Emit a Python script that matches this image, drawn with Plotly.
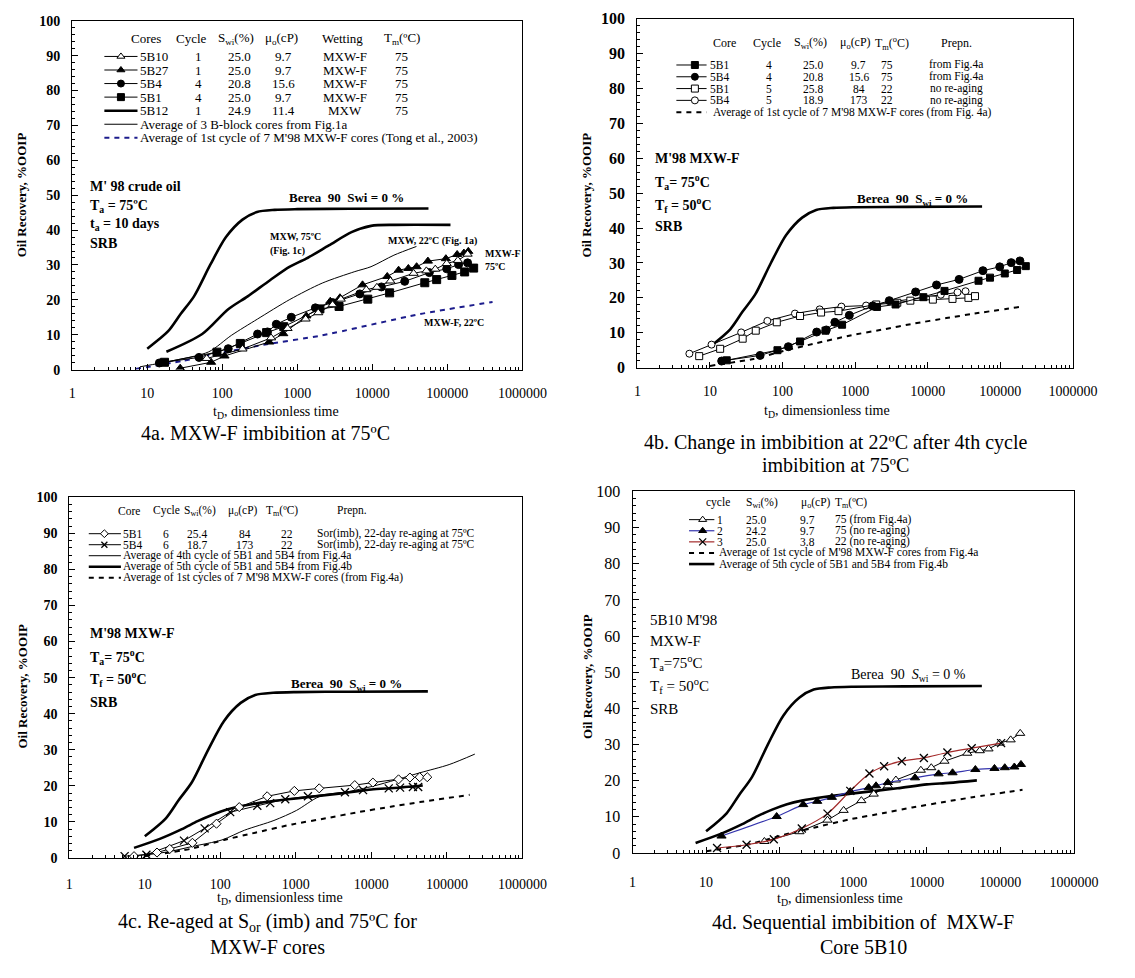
import plotly.graph_objects as go

W, H = 1135, 978
SERIF = "Liberation Serif, Times New Roman, serif"

# ---------------------------------------------------------------- data
# dimensionless time t_D and oil recovery (%OOIP)
td_berea = [10, 19, 28, 42, 69, 112, 186, 290, 500, 1000, 5000, 56000]
rec_berea = [6.0, 11.0, 16.0, 21.0, 30.0, 38.0, 43.0, 45.2, 45.8, 46.0, 46.1, 46.2]

td_mxw75 = [18, 54, 120, 218, 437, 795, 1310, 2630, 5280, 9600, 20000, 110000]
rec_mxw75 = [5.1, 10.2, 17.3, 21.0, 25.7, 29.5, 31.8, 35.6, 39.4, 41.2, 41.5, 41.5]

td_bblock = [8, 25, 66, 132, 295, 795, 2150, 5850, 9600, 19400, 38700]
rec_bblock = [0.8, 2.8, 5.1, 9.8, 14.5, 20.1, 24.8, 28.1, 29.5, 32.8, 35.3]

td_tong = [7, 30, 66, 355, 2130, 42600, 400000]
rec_tong = [0.2, 2.5, 4.1, 7.1, 9.8, 15.9, 19.4]

td_avg1 = [10, 40, 112, 290, 890, 2500, 6300, 18000, 44000, 200000]
rec_avg1 = [0.5, 2.5, 5.0, 7.0, 9.3, 11.0, 12.6, 14.2, 15.5, 17.5]

td_avg4 = [10, 21.4, 42.7, 105, 209, 513, 1023, 2042, 4467, 10965, 43652, 107152, 234423]
rec_avg4 = [0.8, 1.8, 3.2, 5.0, 7.7, 10.4, 13.2, 17.0, 18.2, 20.0, 23.6, 25.9, 28.8]

td_avg5 = [7.2, 15.8, 31, 50, 79, 126, 200, 398, 1000, 3980, 10000, 20000, 47900]
rec_avg5 = [2.8, 5.3, 8.0, 10.2, 12.0, 13.5, 14.5, 15.5, 16.5, 17.9, 19.0, 19.4, 20.1]

td_5b10_c1 = [62, 186, 447, 741, 1290, 1900, 2950, 3800, 8300, 11500, 17400,
              35500, 52500, 69000, 98000, 138000, 186000]
rec_5b10_c1 = [3.2, 5.9, 9.1, 11.8, 14.5, 16.3, 18.6, 20.2, 22.9, 23.6, 25.4,
               27.6, 28.3, 28.8, 30.4, 31.3, 33.1]

td_5b27_c1 = [27.5, 71, 107, 420, 650, 1320, 2750, 3700, 7400, 15800, 22400,
              30200, 38900, 55000, 95500, 135000, 166000, 190000]
rec_5b27_c1 = [0.4, 2.1, 3.9, 7.9, 10.3, 15.4, 19.6, 20.6, 24.3, 26.7, 28.5,
               29.0, 29.5, 31.1, 31.8, 33.0, 33.4, 33.9]

td_5b4_c4 = [14.5, 49, 120, 295, 400, 525, 830, 1740, 2950, 6800, 13200,
             27000, 57500, 98000, 141000, 186000]
rec_5b4_c4 = [1.9, 3.5, 6.0, 10.2, 10.8, 13.0, 15.0, 17.7, 19.2, 21.7, 23.7,
              25.3, 27.8, 28.9, 30.1, 30.6]

td_5b1_c4 = [17, 85, 174, 390, 660, 2000, 3600, 8700, 17000, 50000, 72000,
             115000, 170000, 224000]
rec_5b1_c4 = [2.1, 5.0, 7.5, 10.6, 12.3, 17.4, 18.1, 20.2, 22.0, 24.9, 25.8,
              27.0, 28.0, 29.1]

td_5b1_c5 = [7.1, 13.8, 28.2, 42.7, 83.2, 174, 339, 589, 1950, 3800, 5750,
             11750, 21900, 36300, 44700]
rec_5b1_c5 = [3.3, 5.4, 8.3, 10.6, 13.0, 14.8, 15.8, 16.2, 18.1, 18.6, 19.2,
              19.5, 19.7, 20.0, 20.5]

td_5b4_c5 = [5.2, 10.5, 26.9, 61.7, 148, 324, 646, 1413, 15136, 25704, 33113]
rec_5b4_c5 = [4.0, 6.6, 10.1, 13.4, 15.5, 16.7, 17.5, 17.8, 20.9, 21.6, 21.9]

td_5b1_c6 = [7.2, 14.5, 21.4, 42.7, 89, 178, 417, 955, 2040, 6030, 10470,
             22900, 32400, 43650, 54950]
rec_5b1_c6 = [0.5, 1.5, 2.5, 4.2, 9.5, 14.1, 17.1, 18.6, 19.3, 20.2, 20.9,
              21.8, 22.3, 22.4, 22.4]

td_5b4_c6 = [5.4, 10.5, 33, 62, 135, 309, 457, 724, 1445, 4467, 7762,
             16982, 23988, 35481, 41687]
rec_5b4_c6 = [0.5, 0.9, 4.8, 8.2, 12.7, 14.5, 15.2, 16.3, 17.1, 18.2, 18.8,
              19.3, 19.5, 19.7, 19.7]

td_5b10_c2 = [16.2, 91, 209, 324, 513, 912, 1622, 2042, 2951, 6918, 14454,
              22387, 45709, 83176, 114815, 154882, 190546]
rec_5b10_c2 = [4.7, 10.1, 13.4, 14.3, 15.4, 17.0, 18.1, 18.6, 19.5, 20.8, 21.9,
               22.2, 23.1, 23.4, 23.6, 23.8, 24.5]

td_5b10_c3 = [14.1, 35.5, 83.2, 200, 447, 912, 1660, 2630, 4571, 9120, 19055,
              40738, 102329]
rec_5b10_c3 = [1.4, 2.3, 3.8, 6.8, 10.9, 17.2, 22.0, 24.0, 25.4, 26.3, 27.8,
               29.0, 30.4]

x_tick_vals = [1, 10, 100, 1000, 10000, 100000, 1000000]
x_tick_text = ["1", "10", "100", "1000", "10000", "100000", "1000000"]

# legend tables
hdr_a = ["Cores", "Cycle", "S<sub>wi</sub>(%)", "μ<sub>o</sub>(cP)", "Wetting", "T<sub>m</sub>(ºC)"]
rows_a = [["5B10", "1", "25.0", "9.7", "MXW-F", "75"],
          ["5B27", "1", "25.0", "9.7", "MXW-F", "75"],
          ["5B4", "4", "20.8", "15.6", "MXW-F", "75"],
          ["5B1", "4", "25.0", "9.7", "MXW-F", "75"],
          ["5B12", "1", "24.9", "11.4", "MXW", "75"]]
notes_a = ["Average of 3 B-block cores from Fig.1a",
           "Average of 1st cycle of 7 M'98 MXW-F cores (Tong et al., 2003)"]

hdr_b = ["Core", "Cycle", "S<sub>wi</sub>(%)", "μ<sub>o</sub>(cP)", "T<sub>m</sub>(<sup>o</sup>C)", "Prepn."]
rows_b = [["5B1", "4", "25.0", "9.7", "75", "from Fig.4a"],
          ["5B4", "4", "20.8", "15.6", "75", "from Fig.4a"],
          ["5B1", "5", "25.8", "84", "22", "no re-aging"],
          ["5B4", "5", "18.9", "173", "22", "no re-aging"]]
notes_b = ["Average of 1st cycle of 7 M'98 MXW-F cores (from Fig. 4a)"]

hdr_c = ["Core", "Cycle", "S<sub>wi</sub>(%)", "μ<sub>o</sub>(cP)", "T<sub>m</sub>(ºC)", "Prepn."]
rows_c = [["5B1", "6", "25.4", "84", "22", "Sor(imb), 22-day re-aging at 75ºC"],
          ["5B4", "6", "18.7", "173", "22", "Sor(imb), 22-day re-aging at 75ºC"]]
notes_c = ["Average of 4th cycle of 5B1 and 5B4 from Fig.4a",
           "Average of 5th cycle of 5B1 and 5B4 from Fig.4b",
           "Average of 1st cycles of 7 M'98 MXW-F cores (from Fig.4a)"]

hdr_d = ["cycle", "S<sub>wi</sub>(%)", "μ<sub>o</sub>(cP)", "T<sub>m</sub>(ºC)"]
rows_d = [["1", "25.0", "9.7", "75 (from Fig.4a)"],
          ["2", "24.2", "9.7", "75 (no re-aging)"],
          ["3", "25.0", "3.8", "22 (no re-aging)"]]
notes_d = ["Average of 1st cycle of M'98 MXW-F cores from Fig.4a",
           "Average of 5th cycle of 5B1 and 5B4 from Fig.4b"]

# ---------------------------------------------------------------- styles
def mstyle(symbol, filled=True, size=8):
    if symbol == "x-thin":
        return dict(symbol=symbol, size=size, color="black",
                    line=dict(color="black", width=1.3))
    return dict(symbol=symbol, size=size, color="black" if filled else "white",
                line=dict(color="black", width=1))


THICK = dict(color="black", width=2.6, shape="spline", smoothing=0.8)
THIN = dict(color="black", width=1, shape="spline", smoothing=0.8)
DASH = dict(color="black", width=2, dash="5px,5px", shape="spline", smoothing=0.6)
DASH_BLUE = dict(color="#1c1c8c", width=2, dash="5px,5px", shape="spline", smoothing=0.6)
BLUE = "#3535ad"
RED = "#a32a2a"

STYLES = {
    "thick": dict(mode="lines", line=THICK),
    "thin": dict(mode="lines", line=THIN),
    "dash": dict(mode="lines", line=DASH),
    "dash_blue": dict(mode="lines", line=DASH_BLUE),
    "tri_open": dict(mode="lines+markers", line=dict(color="black", width=1),
                     marker=mstyle("triangle-up", False)),
    "tri": dict(mode="lines+markers", line=dict(color="black", width=1),
                marker=mstyle("triangle-up")),
    "circle": dict(mode="lines+markers", line=dict(color="black", width=1),
                   marker=mstyle("circle")),
    "square": dict(mode="lines+markers", line=dict(color="black", width=1),
                   marker=mstyle("square")),
    "square_open": dict(mode="lines+markers", line=dict(color="black", width=1),
                        marker=mstyle("square", False)),
    "circle_open": dict(mode="lines+markers", line=dict(color="black", width=1),
                        marker=mstyle("circle", False)),
    "diamond_open": dict(mode="lines+markers", line=dict(color="black", width=1),
                         marker=mstyle("diamond", False, 7)),
    "cross": dict(mode="lines+markers", line=dict(color="black", width=1),
                  marker=mstyle("x-thin", True, 8)),
    "tri_blue": dict(mode="lines+markers",
                     line=dict(color=BLUE, width=1.2, shape="spline", smoothing=0.5),
                     marker=mstyle("triangle-up")),
    "cross_red": dict(mode="lines+markers",
                      line=dict(color=RED, width=1.2, shape="spline", smoothing=0.8),
                      marker=mstyle("x-thin", True, 8)),
}

# panel boxes in pixels: left, right, top, bottom
BOX = {"a": (70, 532, 13, 368), "b": (650, 1097, 11, 366),
       "c": (67, 532, 498, 865), "d": (645, 1098, 492, 860)}
AX = {"a": ("x", "y"), "b": ("x2", "y2"), "c": ("x3", "y3"), "d": ("x4", "y4")}
XLABEL_GAP = {"a": 10, "b": 10, "c": 13, "d": 16}

fig = go.Figure()


def series(panel, t, r, style, **over):
    st = dict(STYLES[style])
    if over.get("msize") and "marker" in st:
        st["marker"] = dict(st["marker"], size=over["msize"])
    fig.add_trace(go.Scatter(x=t, y=r, xaxis=AX[panel][0], yaxis=AX[panel][1],
                             showlegend=False, hoverinfo="skip", **st))


def key(x0, x1, xm, y, style, msize=7):
    """legend sample drawn on the full-figure key axes"""
    st = dict(STYLES[style])
    line = dict(st["line"])
    line.pop("shape", None)
    line.pop("smoothing", None)
    fig.add_trace(go.Scatter(x=[x0, x1], y=[y, y], mode="lines", line=line,
                             xaxis="x5", yaxis="y5", showlegend=False, hoverinfo="skip"))
    if "marker" in st:
        fig.add_trace(go.Scatter(x=[xm], y=[y], mode="markers",
                                 marker=dict(st["marker"], size=msize),
                                 xaxis="x5", yaxis="y5", showlegend=False,
                                 hoverinfo="skip"))


def note(x, y, s, size=13, bold=False, anchor="left", angle=0):
    fig.add_annotation(x=x / W, y=1 - y / H, xref="paper", yref="paper",
                       text=f"<b>{s}</b>" if bold else s, showarrow=False,
                       xanchor=anchor, yanchor="middle", textangle=angle,
                       borderpad=0,
                       font=dict(family=SERIF, size=size, color="black"))


# ---------------------------------------------------------------- 4a
series("a", td_berea, rec_berea, "thick")
series("a", td_mxw75, rec_mxw75, "thick")
series("a", td_bblock, rec_bblock, "thin")
series("a", td_tong, rec_tong, "dash_blue")
series("a", td_5b1_c4, rec_5b1_c4, "square", msize=8)
series("a", td_5b4_c4, rec_5b4_c4, "circle", msize=8)
series("a", td_5b27_c1, rec_5b27_c1, "tri", msize=8)
series("a", td_5b10_c1, rec_5b10_c1, "tri_open", msize=8)

# ---------------------------------------------------------------- 4b
series("b", td_berea, rec_berea, "thick")
series("b", td_avg1, rec_avg1, "dash")
series("b", td_5b4_c5, rec_5b4_c5, "circle_open", msize=7)
series("b", td_5b1_c5, rec_5b1_c5, "square_open", msize=7)
series("b", td_5b1_c4, rec_5b1_c4, "square", msize=7)
series("b", td_5b4_c4, rec_5b4_c4, "circle", msize=8)

# ---------------------------------------------------------------- 4c
series("c", td_berea, rec_berea, "thick")
series("c", td_avg1, rec_avg1, "dash")
series("c", td_avg4, rec_avg4, "thin")
series("c", td_avg5, rec_avg5, "thick")
series("c", td_5b4_c6, rec_5b4_c6, "cross")
series("c", td_5b1_c6, rec_5b1_c6, "diamond_open")

# ---------------------------------------------------------------- 4d
series("d", td_berea, rec_berea, "thick")
series("d", td_avg1, rec_avg1, "dash")
series("d", td_avg5, rec_avg5, "thick")
series("d", td_5b10_c1, rec_5b10_c1, "tri_open", msize=8)
series("d", td_5b10_c2, rec_5b10_c2, "tri_blue", msize=8)
series("d", td_5b10_c3, rec_5b10_c3, "cross_red")

# ---------------------------------------------------------------- legend tables
# 4a
ya, dya = 49.3, 13.8
cols_a = [146, 192, 238, 285, 347, 408]
for s, cx in zip(hdr_a, cols_a):
    note(cx, 31, s, 13, anchor="center")
row_cols_a = [(139, "left"), (200, "center"), (242, "center"), (287, "center"),
              (350, "center"), (408, "center")]
for i, (row, st) in enumerate(zip(rows_a, ["tri_open", "tri", "circle", "square", "thick"])):
    y = ya + i * dya
    key(103, 137, 120, y, st, 7)
    for s, (cx, anc) in zip(row, row_cols_a):
        note(cx, y, s, 13, anchor=anc)
for j, (s, st) in enumerate(zip(notes_a, ["thin", "dash_blue"])):
    y = ya + (len(rows_a) + j) * dya
    key(103, 137, 120, y, st)
    note(139, y, s, 13)

# 4b
yb, dyb = 58, 12
cols_b = [739, 783, 828, 874, 911, 977]
for s, cx in zip(hdr_b, cols_b):
    note(cx, 35.7, s, 12, anchor="center")
row_cols_b = [(723, "left"), (785, "center"), (830, "center"), (877, "center"),
              (906, "center"), (977, "center")]
for i, (row, st) in enumerate(zip(rows_b, ["square", "circle", "square_open", "circle_open"])):
    y = yb + i * dyb
    key(690, 721, 709, y, st, 7)
    for s, (cx, anc) in zip(row, row_cols_b):
        note(cx, y, s, 11.5, anchor=anc)
y = yb + len(rows_b) * dyb
key(690, 721, 709, y, "dash")
note(727, y, notes_b[0], 11.5)

# 4c
yc, dyc = 535, 11.2
cols_c = [128, 167, 201, 245, 285, 357]
for s, cx in zip(hdr_c, cols_c):
    note(cx, 511.7, s, 11.5, anchor="center")
row_cols_c = [(121, "left"), (166, "center"), (198, "center"), (247, "center"),
              (290, "center"), (320, "left")]
for i, (row, st) in enumerate(zip(rows_c, ["diamond_open", "cross"])):
    y = yc + i * dyc
    key(87, 120, 103, y, st, 6)
    for s, (cx, anc) in zip(row, row_cols_c):
        note(cx, y, s, 11.5, anchor=anc)
for j, (s, st) in enumerate(zip(notes_c, ["thin", "thick", "dash"])):
    y = yc + (len(rows_c) + j) * dyc
    key(87, 120, 103, y, st)
    note(121, y, s, 11.5)

# 4d
yd, dyd = 520.7, 11.3
for s, cx, anc in zip(hdr_d, [733, 778, 833, 852], ["center", "center", "center", "left"]):
    note(cx, 503.3, s, 11.5, anchor=anc)
row_cols_d = [(731, "left"), (772, "center"), (825, "center"), (852, "left")]
for i, (row, st) in enumerate(zip(rows_d, ["tri_open", "tri_blue", "cross_red"])):
    y = yd + i * dyd
    key(703, 729, 717, y, st, 7)
    for s, (cx, anc) in zip(row, row_cols_d):
        note(cx, y, s, 11.5, anchor=anc)
for j, (s, st) in enumerate(zip(notes_d, ["dash", "thick"])):
    y = yd + (len(rows_d) + j) * dyd
    key(703, 729, 717, y, st)
    note(733, y, s, 11.5)

# ---------------------------------------------------------------- labels inside panels
for i, s in enumerate(["M' 98 crude oil", "T<sub>a</sub> = 75ºC", "t<sub>a</sub> = 10 days", "SRB"]):
    note(87, [182, 202, 220, 240][i], s, 14, bold=True)
note(351, 193, "Berea  90  Swi = 0 %", 13, bold=True, anchor="center")
note(272, 233, "MXW, 75ºC", 10, bold=True)
note(272, 247, "(Fig. 1c)", 10, bold=True)
note(393, 237, "MXW, 22ºC (Fig. 1a)", 10, bold=True)
note(493, 250, "MXW-F", 10, bold=True)
note(493, 263, "75ºC", 10, bold=True)
note(430, 320, "MXW-F, 22ºC", 10, bold=True)

for i, s in enumerate(["M'98 MXW-F", "T<sub>a</sub>= 75<sup>o</sup>C",
                       "T<sub>f</sub> = 50<sup>o</sup>C", "SRB"]):
    note(667, [153, 177, 200, 222][i], s, 14, bold=True)
note(932, 195, "Berea  90  S<sub>wi</sub> = 0 %", 13, bold=True, anchor="center")

for i, s in enumerate(["M'98 MXW-F", "T<sub>a</sub>= 75<sup>o</sup>C",
                       "T<sub>f</sub> = 50<sup>o</sup>C", "SRB"]):
    note(87, [637, 660, 683, 707][i], s, 14, bold=True)
note(351, 688, "Berea  90  S<sub>wi</sub> = 0 %", 13, bold=True, anchor="center")

for i, s in enumerate(["5B10 M'98", "MXW-F", "T<sub>a</sub>=75<sup>o</sup>C",
                       "T<sub>f</sub> = 50<sup>o</sup>C", "SRB"]):
    note(662, [623, 644, 667, 690, 713][i], s, 15)
note(928, 679, "Berea  90  <i>S</i><sub>wi</sub> = 0 %", 14, anchor="center")

# ---------------------------------------------------------------- axis titles and captions
XT = "t<sub>D</sub>, dimensionless time"
YT = "<b>Oil Recovery, %OOIP</b>"
note(279, 412, XT, 14, anchor="center")
note(845, 411, XT, 14, anchor="center")
note(283, 906, XT, 14, anchor="center")
note(858, 907, XT, 14, anchor="center")
note(18, 190, YT, 13, anchor="center", angle=-90)
note(598, 190, YT, 13, anchor="center", angle=-90)
note(18, 690, YT, 13, anchor="center", angle=-90)
note(598, 680, YT, 13, anchor="center", angle=-90)

note(268, 433, "4a. MXW-F imbibition at 75ºC", 20, anchor="center")
note(853, 442, "4b. Change in imbibition at 22ºC after 4th cycle", 20, anchor="center")
note(853, 465, "imbibition at 75ºC", 20, anchor="center")
note(270, 931, "4c. Re-aged at S<sub>or</sub> (imb) and 75ºC for", 20, anchor="center")
note(270, 956, "MXW-F cores", 20, anchor="center")
note(882, 931, "4d. Sequential imbibition of  MXW-F", 20, anchor="center")
note(882, 956, "Core 5B10", 20, anchor="center")

# ---------------------------------------------------------------- axes
minor_x = [k * 10 ** d for d in range(6) for k in range(2, 10)]
layout = {}
for i, p in enumerate("abcd", start=1):
    x0, x1, y0, y1 = BOX[p]
    sfx = "" if i == 1 else str(i)
    ybold = "bold" if p in "abc" else "normal"
    ysize = 14 if p in "ac" else 16
    layout[f"xaxis{sfx}"] = dict(
        domain=[x0 / W, x1 / W], anchor=f"y{sfx}", type="log", range=[0, 6],
        tickmode="array", tickvals=x_tick_vals, ticktext=x_tick_text,
        ticks="inside", ticklen=6, tickcolor="black", ticklabelstandoff=XLABEL_GAP[p],
        minor=dict(tickvals=minor_x, ticks="inside", ticklen=3, tickcolor="black"),
        showline=True, linecolor="black", linewidth=1.2, mirror=True,
        showgrid=False, zeroline=False,
        tickfont=dict(family=SERIF, size=14, color="black"))
    layout[f"yaxis{sfx}"] = dict(
        domain=[1 - y1 / H, 1 - y0 / H], anchor=f"x{sfx}", range=[0, 100],
        tick0=0, dtick=10, ticks="inside", ticklen=6, tickcolor="black",
        ticklabelstandoff=8,
        minor=dict(dtick=2, ticks="inside", ticklen=3, tickcolor="black"),
        showline=True, linecolor="black", linewidth=1.2, mirror=True,
        showgrid=False, zeroline=False,
        tickfont=dict(family=SERIF, size=ysize, color="black", weight=ybold))

# full-figure axes carrying the legend samples
layout["xaxis5"] = dict(domain=[0, 1], range=[0, W], visible=False, anchor="y5")
layout["yaxis5"] = dict(domain=[0, 1], range=[H, 0], visible=False, anchor="x5")

fig.update_layout(width=W, height=H, margin=dict(l=0, r=0, t=0, b=0),
                  paper_bgcolor="white", plot_bgcolor="rgba(0,0,0,0)",
                  showlegend=False, **layout)

fig.write_html("out.html")
